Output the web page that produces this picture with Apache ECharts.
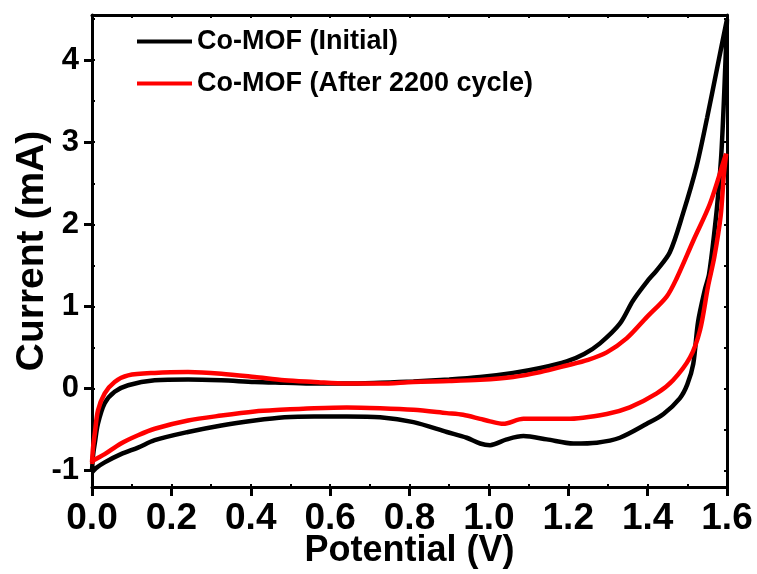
<!DOCTYPE html>
<html>
<head>
<meta charset="utf-8">
<script src="https://cdn.jsdelivr.net/npm/echarts@6/dist/echarts.min.js"></script>
<style>
  html, body { margin: 0; padding: 0; background: #fff; }
  #main { width: 757px; height: 574px; }
</style>
</head>
<body>
<div id="main"></div>
<script>
// CV loops, [potential (V), current (mA)], forward scan then return scan
var initialLoop = [
  [0, -1.0], [0.003, -0.8], [0.007, -0.67], [0.015, -0.43], [0.032, -0.18], [0.057, -0.04],
  [0.091, 0.04], [0.158, 0.1], [0.242, 0.11], [0.326, 0.1], [0.41, 0.08], [0.485, 0.07],
  [0.56, 0.06], [0.642, 0.06], [0.726, 0.07], [0.81, 0.085], [0.9, 0.11], [0.978, 0.14],
  [1.061, 0.19], [1.13, 0.25], [1.196, 0.33], [1.24, 0.42], [1.28, 0.55], [1.33, 0.79],
  [1.363, 1.07], [1.398, 1.3], [1.423, 1.44], [1.456, 1.66], [1.489, 2.13], [1.523, 2.7],
  [1.55, 3.3], [1.575, 3.9], [1.6, 4.5],
  [1.593, 3.6], [1.585, 2.8], [1.574, 2.17], [1.555, 1.4], [1.544, 1.2], [1.527, 0.81],
  [1.515, 0.3], [1.5, 0.05], [1.481, -0.12], [1.44, -0.31], [1.398, -0.43], [1.33, -0.6],
  [1.272, -0.66], [1.213, -0.67], [1.146, -0.62], [1.087, -0.58], [1.045, -0.62],
  [1.003, -0.69], [0.978, -0.67], [0.944, -0.6], [0.894, -0.53], [0.81, -0.41],
  [0.726, -0.35], [0.642, -0.34], [0.56, -0.34], [0.485, -0.35], [0.41, -0.39],
  [0.326, -0.45], [0.242, -0.53], [0.158, -0.63], [0.116, -0.72], [0.073, -0.8],
  [0.032, -0.9], [0.01, -0.97], [0, -1.02]
];
var cycledLoop = [
  [0, -0.9], [0.003, -0.7], [0.007, -0.55], [0.015, -0.27], [0.032, -0.06], [0.057, 0.08],
  [0.091, 0.16], [0.158, 0.19], [0.242, 0.2], [0.326, 0.18], [0.41, 0.14], [0.485, 0.1],
  [0.56, 0.08], [0.642, 0.06], [0.726, 0.06], [0.81, 0.08], [0.9, 0.09], [0.978, 0.105],
  [1.061, 0.14], [1.13, 0.2], [1.196, 0.28], [1.25, 0.35], [1.297, 0.44], [1.347, 0.61],
  [1.398, 0.87], [1.448, 1.12], [1.473, 1.34], [1.515, 1.8], [1.557, 2.25], [1.595, 2.82],
  [1.598, 2.86],
  [1.592, 2.6], [1.584, 2.1], [1.568, 1.6], [1.552, 1.24], [1.532, 0.71], [1.507, 0.38],
  [1.464, 0.1], [1.423, -0.06], [1.355, -0.23], [1.297, -0.31], [1.196, -0.37],
  [1.087, -0.37], [1.036, -0.43], [1.003, -0.4], [0.978, -0.37], [0.935, -0.32],
  [0.894, -0.3], [0.81, -0.26], [0.726, -0.24], [0.642, -0.23], [0.56, -0.24],
  [0.474, -0.26], [0.41, -0.28], [0.326, -0.33], [0.242, -0.39], [0.158, -0.49],
  [0.116, -0.57], [0.073, -0.67], [0.032, -0.8], [0.003, -0.88], [0, -0.92]
];
var seriesNames = ["Co-MOF (Initial)", "Co-MOF (After 2200 cycle)"];
var yTicks = [-1, 0, 1, 2, 3, 4];
var yMinorTicks = [-1, -0.5, 0, 0.5, 1, 1.5, 2, 2.5, 3, 3.5, 4, 4.5];
var xMinorTicks = [0, 0.1, 0.2, 0.3, 0.4, 0.5, 0.6, 0.7, 0.8, 0.9, 1.0, 1.1, 1.2, 1.3, 1.4, 1.5, 1.6];

var font = "'Liberation Sans', Arial, sans-serif";
var chart = echarts.init(document.getElementById("main"));

var option = {
  animation: false,
  backgroundColor: "#fff",
  grid: { left: 92, right: 30, top: 15, bottom: 87, outerBoundsMode: "none", containLabel: false },
  legend: {
    orient: "vertical",
    left: 137,
    top: 28,
    padding: 0,
    itemWidth: 55,
    itemHeight: 4,
    itemGap: 15,
    icon: "rect",
    textStyle: { fontFamily: font, fontWeight: "bold", fontSize: 27, color: "#000" },
    data: seriesNames
  },
  xAxis: [
    {
      type: "value", min: 0, max: 1.6, interval: 0.2,
      name: "Potential (V)", nameLocation: "middle", nameGap: 46, nameMoveOverlap: false,
      nameTextStyle: { fontFamily: font, fontWeight: "bold", fontSize: 36, color: "#000" },
      axisLine: { onZero: false, lineStyle: { color: "#000", width: 3 } },
      axisTick: { length: 9, lineStyle: { color: "#000", width: 3 } },
      axisLabel: {
        margin: 13, fontFamily: font, fontWeight: "bold", fontSize: 37, color: "#000",
        formatter: function (v) { return v.toFixed(1); }
      },
      splitLine: { show: false }
    },
    {
      type: "value", min: 0, max: 1.6, position: "top",
      axisLine: { onZero: false, lineStyle: { color: "#000", width: 3 } },
      axisTick: { inside: true, length: 3, customValues: xMinorTicks, lineStyle: { color: "#000", width: 2 } },
      axisLabel: { show: false }, splitLine: { show: false }
    },
    {
      type: "value", min: 0, max: 1.6, position: "bottom",
      axisLine: { show: false, onZero: false },
      axisTick: { inside: true, length: 3, customValues: xMinorTicks, lineStyle: { color: "#000", width: 2 } },
      axisLabel: { show: false }, splitLine: { show: false }
    }
  ],
  yAxis: [
    {
      type: "value", min: -1.2, max: 4.55,
      name: "Current (mA)", nameLocation: "middle", nameGap: 40, nameMoveOverlap: false,
      nameTextStyle: { fontFamily: font, fontWeight: "bold", fontSize: 39, color: "#000" },
      axisLine: { onZero: false, lineStyle: { color: "#000", width: 3 } },
      axisTick: { length: 8, customValues: yTicks, lineStyle: { color: "#000", width: 3 } },
      axisLabel: {
        margin: 13, customValues: yTicks, fontFamily: font, fontWeight: "bold", fontSize: 31, color: "#000"
      },
      splitLine: { show: false }
    },
    {
      type: "value", min: -1.2, max: 4.55, position: "right",
      axisLine: { onZero: false, lineStyle: { color: "#000", width: 3 } },
      axisTick: { inside: true, length: 3, customValues: yMinorTicks, lineStyle: { color: "#000", width: 2 } },
      axisLabel: { show: false }, splitLine: { show: false }
    },
    {
      type: "value", min: -1.2, max: 4.55, position: "left",
      axisLine: { show: false, onZero: false },
      axisTick: { inside: true, length: 3, customValues: yMinorTicks, lineStyle: { color: "#000", width: 2 } },
      axisLabel: { show: false }, splitLine: { show: false }
    }
  ],
  series: [
    {
      name: seriesNames[0], type: "line", data: initialLoop,
      showSymbol: false, smooth: 0.3, color: "#000",
      lineStyle: { width: 4.5, color: "#000" }
    },
    {
      name: seriesNames[1], type: "line", data: cycledLoop,
      showSymbol: false, smooth: 0.3, color: "#ff0000",
      lineStyle: { width: 4.5, color: "#ff0000" }
    }
  ]
};

chart.setOption(option);
</script>
</body>
</html>
